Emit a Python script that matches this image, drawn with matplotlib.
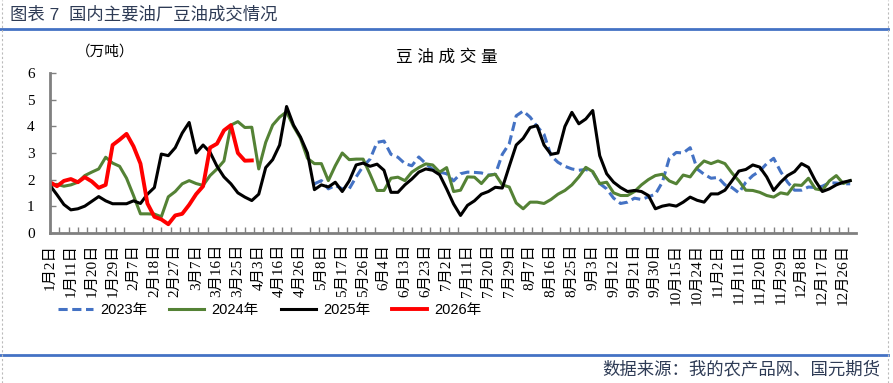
import matplotlib
matplotlib.use("Agg")
import matplotlib.pyplot as plt
from matplotlib.lines import Line2D
import numpy as np

# x axis categories (calendar dates, one label every 9 categories)
tick_labels = ["1月2日", "1月11日", "1月20日", "1月29日", "2月7日", "2月18日", "2月27日",
               "3月7日", "3月16日", "3月25日", "4月3日", "4月16日", "4月26日", "5月8日",
               "5月17日", "5月26日", "6月4日", "6月13日", "6月23日", "7月2日", "7月11日",
               "7月20日", "7月29日", "8月7日", "8月16日", "8月25日", "9月3日", "9月12日",
               "9月21日", "9月30日", "10月15日", "10月24日", "11月2日", "11月11日",
               "11月20日", "11月29日", "12月8日", "12月17日", "12月26日"]
n_cat = 348
step = 3  # values read every 3rd category

# 豆油成交量 (万吨)
y2023 = [np.nan] * 38 + [
    1.84, 1.96, 1.65, 1.78, 1.65, 1.65, 2.1, 2.5, 2.77, 3.4, 3.45, 2.95, 2.84, 2.6, 2.52, 2.85,
    2.6, 2.38, 2.28, 2.22,
    1.95, 2.22, 2.28, 2.27, 2.25, 2.17, 2.2, 2.95, 3.35, 4.4, 4.58, 4.35, 4.0, 3.7, 2.9, 2.65,
    2.5, 2.4, 2.35, 2.38, 2.28, 1.85, 1.65, 1.3, 1.1, 1.15, 1.3, 1.25, 1.35,
    1.45, 1.9, 2.8, 3.02, 3.0, 3.2, 2.4, 2.2, 2.05, 2.08, 1.8, 1.7, 1.5, 1.9, 2.15, 2.32,
    2.6, 2.8, 2.3, 1.9, 1.6, 1.6, 1.72, 1.7, 1.75, 1.88, 1.87, 1.84, 1.84]
y2024 = [1.78, 1.82, 1.75, 1.8, 1.9, 2.15, 2.28, 2.4, 2.84, 2.62, 2.5, 2.05, 1.4, 0.71, 0.71,
         0.7, 0.6, 1.35, 1.55, 1.84, 1.96, 1.85, 1.78, 2.15, 2.4, 2.7, 4.05, 4.18, 3.96,
         3.97, 2.4, 3.4, 4.05, 4.35, 4.55, 4.0, 3.55, 2.8, 2.6, 2.6, 1.96, 2.52, 3.0, 2.75,
         2.77, 2.77, 2.2, 1.59, 1.59, 2.05, 2.09, 1.96, 2.28, 2.45, 2.59, 2.55, 2.28, 2.45,
         1.55, 1.6, 2.1, 2.09, 1.85, 2.15, 2.2, 1.8, 1.72, 1.12, 0.9, 1.15, 1.15, 1.1, 1.25,
         1.45, 1.59, 1.8, 2.1, 2.46, 2.3, 1.85, 1.9, 1.5, 1.4, 1.4, 1.55, 1.8, 2.0,
         2.15, 2.2, 1.95, 1.84, 2.17, 2.1, 2.45, 2.7, 2.6, 2.7, 2.6, 2.25, 1.95, 1.6, 1.59,
         1.52, 1.4, 1.34, 1.5, 1.45, 1.8, 1.78, 2.05, 1.65, 1.6, 1.95, 2.15, 1.85, 1.96]
y2025 = [1.78, 1.43, 1.06, 0.86, 0.9, 1.0, 1.18, 1.36, 1.2, 1.09, 1.09, 1.09, 1.2, 1.1, 1.45,
         1.7, 2.96, 2.9, 3.2, 3.75, 4.15, 3.0, 3.3, 3.03, 2.5, 2.1, 1.84, 1.5, 1.34,
         1.21, 1.45, 2.45, 2.75, 3.3, 4.75, 4.05, 3.6, 3.0, 1.62, 1.8, 1.72, 1.9, 1.55, 1.95,
         2.55, 2.62, 2.5, 2.58, 2.35, 1.52, 1.52, 1.8, 2.02, 2.28, 2.4, 2.35, 2.18, 1.65,
         1.08, 0.65, 1.03, 1.2, 1.45, 1.55, 1.71, 1.68, 2.5, 3.3, 3.55, 3.96, 4.03, 3.3, 2.95,
         3.0, 4.0, 4.53, 4.1, 4.28, 4.6, 2.9, 2.22, 1.9, 1.7, 1.55, 1.59, 1.55, 1.4,
         0.9, 1.0, 1.05, 1.0, 1.15, 1.34, 1.22, 1.15, 1.46, 1.46, 1.6, 1.95, 2.32, 2.38, 2.55,
         2.47, 2.1, 1.59, 1.9, 2.15, 2.3, 2.6, 2.46, 1.95, 1.55, 1.65, 1.8, 1.9, 1.96]
y2026 = [1.9, 1.75, 1.95, 2.02, 1.9, 2.09, 1.93, 1.69, 1.8, 3.3, 3.5, 3.72, 3.25, 2.6, 1.1,
         0.6, 0.5, 0.32, 0.65, 0.71, 1.05, 1.45, 1.75, 3.2, 3.35, 3.85, 4.05, 3.0, 2.71, 2.72]

W, H = 893, 383
fig = plt.figure(figsize=(W / 100, H / 100), dpi=100)
ax = fig.add_axes([50 / W, 1 - 232.7 / H, 806 / W, (232.7 - 73.3) / H])

serif = ["Liberation Serif", "Noto Sans CJK SC"]
sans = ["Liberation Sans", "Noto Sans CJK SC"]

def xs(vals):
    return np.arange(len(vals)) * step

ax.plot(xs(y2023), y2023, color="#4472C4", lw=2.2, dashes=(3, 1.5), label="2023年")
ax.plot(xs(y2024), y2024, color="#548235", lw=2.2, label="2024年")
ax.plot(xs(y2025), y2025, color="black", lw=2.2, label="2025年")
ax.plot(xs(y2026), y2026, color="#FF0000", lw=2.8, label="2026年")

ax.set_xlim(0, n_cat - 0.5)
ax.set_ylim(0, 6)
ax.set_yticks(range(7))
ax.set_yticklabels([str(v) for v in range(7)], family=serif, fontsize=11)
ax.set_xticks(np.arange(len(tick_labels)) * 9)
ax.set_xticklabels(tick_labels, rotation=90, va="top", ha="center",
                   family=serif, fontsize=11)
ax.set_xticks(np.arange(0, n_cat, 4), minor=True)
ax.tick_params(axis="x", which="major", length=0, pad=8)
ax.tick_params(axis="x", which="minor", direction="in", length=4, width=1, color="#808080")
ax.tick_params(axis="y", direction="in", length=4, width=1, color="#808080", pad=11)
for s in ["top", "right"]:
    ax.spines[s].set_visible(False)
for s in ["left", "bottom"]:
    ax.spines[s].set_color("#808080")
    ax.spines[s].set_linewidth(2)

fig.legend(loc="center", bbox_to_anchor=(0.302, 1 - 310 / H), ncol=4, frameon=False,
           prop={"family": sans, "size": 10.5}, handlelength=2.4, handletextpad=0.5,
           columnspacing=1.5)

# header / footer
fig.text(10 / W, 1 - 14 / H, "图表 7  国内主要油厂豆油成交情况", family=sans, fontsize=12.5,
         color="#2E3B55", va="center", ha="left")
fig.add_artist(Line2D([0, 888 / W], [1 - 29 / H] * 2, color="#4472C4", lw=2))
fig.text(76 / W, 1 - 52 / H, "（万吨）", family=sans, fontsize=10.5, va="center", ha="left")
fig.text(447 / W, 1 - 57 / H, "豆 油 成 交 量", family=sans, fontsize=12, va="center",
         ha="center")
fig.add_artist(Line2D([0, 888 / W], [1 - 355 / H] * 2, color="#4472C4", lw=2))
fig.text(880 / W, 1 - 369 / H, "数据来源：我的农产品网、国元期货", family=sans, fontsize=12.5,
         color="#2E3B55", va="center", ha="right")
for xp in [1.5, 887.5]:
    fig.add_artist(Line2D([xp / W] * 2, [0, 1], color="#BBBBBB", lw=0.8, ls=(0, (2, 2))))

fig.savefig("out.png", dpi=100)
